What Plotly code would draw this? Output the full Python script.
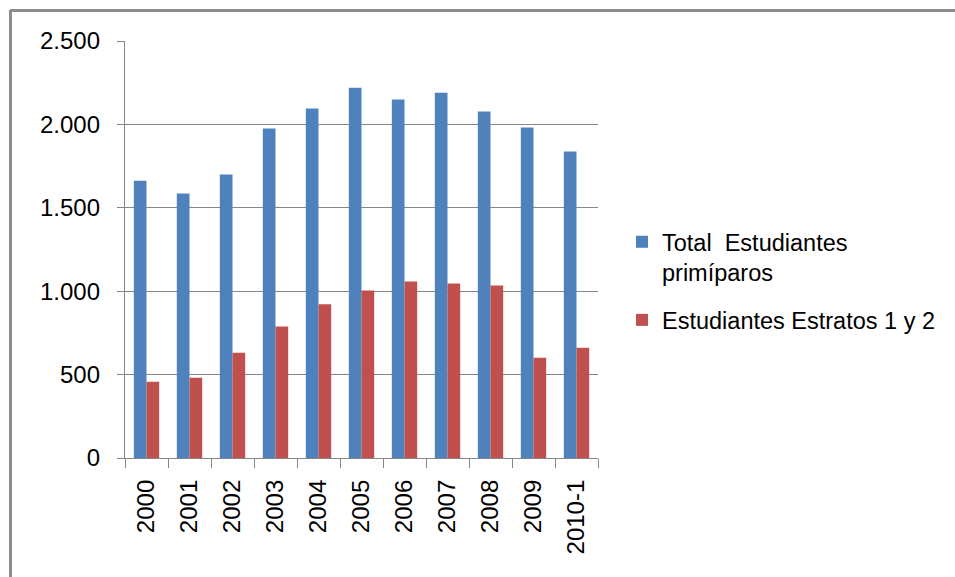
import plotly.graph_objects as go

categories = ["2000", "2001", "2002", "2003", "2004", "2005", "2006", "2007", "2008", "2009", "2010-1"]
total_primiparos = [1662, 1585, 1699, 1975, 2095, 2220, 2149, 2190, 2077, 1981, 1837]
estratos_1_2 = [457, 481, 631, 788, 922, 1004, 1058, 1046, 1034, 601, 661]
y_ticks = [0, 500, 1000, 1500, 2000, 2500]
y_tick_labels = ["0", "500", "1.000", "1.500", "2.000", "2.500"]

FONT = "Liberation Sans"
GRID = "#868686"

fig = go.Figure()
fig.add_trace(go.Bar(
    x=categories, y=total_primiparos,
    name="Total\u00a0\u00a0Estudiantes<br>primíparos",
    marker=dict(color="#4F81BD", line=dict(width=0)),
    legendgroup="a",
))
fig.add_trace(go.Bar(
    x=categories, y=estratos_1_2,
    name="Estudiantes Estratos 1 y 2",
    marker=dict(color="#C0504D", line=dict(width=0)),
    legendgroup="b",
))

L, R, T, B = 125, 357, 41, 119
W, H = 955, 577
pw, ph = W - L - R, H - T - B

def px_x(p):
    return (p - L) / pw

def px_y(p):
    return (H - B - p) / ph

fig.update_layout(
    width=W, height=H,
    margin=dict(l=L, r=R, t=T, b=B, pad=0, autoexpand=False),
    paper_bgcolor="white", plot_bgcolor="white",
    barmode="group", bargap=0.41, bargroupgap=0,
    font=dict(family=FONT, size=24, color="black"),
    legend=dict(
        x=px_x(622), y=px_y(220), xanchor="left", yanchor="top",
        font=dict(family=FONT, size=23.5, color="black"),
        tracegroupgap=14, valign="top", bgcolor="rgba(0,0,0,0)",
    ),
    showlegend=True,
    xaxis=dict(
        type="category", tickangle=-90,
        showline=True, linecolor=GRID, linewidth=1.3,
        ticks="outside", ticklen=9, tickcolor=GRID, tickwidth=1.3,
        tickson="boundaries", showgrid=False,
        tickfont=dict(family=FONT, size=24, color="black"),
        ticklabelstandoff=11,
    ),
    yaxis=dict(
        range=[0, 2500], tickvals=y_ticks, ticktext=y_tick_labels,
        showline=True, linecolor=GRID, linewidth=1.3,
        ticks="outside", ticklen=7, tickcolor=GRID, tickwidth=1.3,
        showgrid=True, gridcolor=GRID, gridwidth=1.3,
        zeroline=False,
        tickfont=dict(family=FONT, size=24, color="black"),
        ticklabelstandoff=12,
    ),
)

# outer chart frame (top and left edges visible)
fig.add_shape(type="line", xref="paper", yref="paper",
              x0=px_x(10), x1=px_x(960), y0=px_y(10.5), y1=px_y(10.5),
              line=dict(color="#8c8c8c", width=3))
fig.add_shape(type="line", xref="paper", yref="paper",
              x0=px_x(10.5), x1=px_x(10.5), y0=px_y(10), y1=px_y(580),
              line=dict(color="#8c8c8c", width=3))

fig.write_html(
    "out.html",
    config={"displayModeBar": False},
    post_script="document.body.style.margin='0';document.body.style.overflow='hidden';",
)
